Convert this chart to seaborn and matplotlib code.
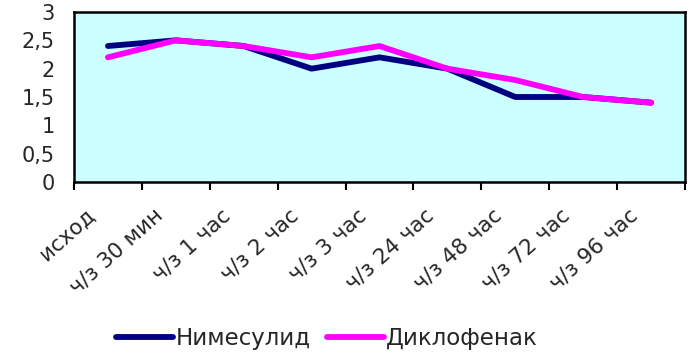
import numpy as np
import pandas as pd
import matplotlib
matplotlib.use("Agg")
import matplotlib.pyplot as plt
import matplotlib.transforms as mtransforms
import seaborn as sns

categories = ["исход", "ч/з 30 мин", "ч/з 1 час", "ч/з 2 час", "ч/з 3 час",
              "ч/з 24 час", "ч/з 48 час", "ч/з 72 час", "ч/з 96 час"]
nimesulide = [2.4, 2.5, 2.4, 2.0, 2.2, 2.0, 1.5, 1.5, 1.4]
diclofenac = [2.2, 2.5, 2.4, 2.2, 2.4, 2.0, 1.8, 1.5, 1.4]
series_names = ["Нимесулид", "Диклофенак"]
y_ticks = [0, 0.5, 1, 1.5, 2, 2.5, 3]

df = pd.DataFrame({
    "pos": list(range(len(categories))) * 2,
    "value": nimesulide + diclofenac,
    "drug": [series_names[0]] * len(categories) + [series_names[1]] * len(categories),
})

sns.set_theme(style="white")
plt.rcParams["font.family"] = ["DejaVu Sans"]

fig = plt.figure(figsize=(6.92, 3.61), dpi=100)
ax = fig.add_axes([74 / 692, 1 - 182 / 361, (685 - 74) / 692, (182 - 12) / 361])
ax.set_facecolor("#CCFFFF")

sns.lineplot(data=df, x="pos", y="value", hue="drug", hue_order=series_names,
             palette=["#000080", "#FF00FF"], linewidth=4.2, sort=False,
             legend=True, ax=ax)

n = len(categories)
ax.set_xlim(-0.5, n - 0.5)
ax.set_ylim(0, 3)
ax.set_xlabel("")
ax.set_ylabel("")

# category labels centred on the points, boundary tick marks between them
ax.set_xticks(np.arange(n))
ax.set_xticklabels(categories, rotation=42, ha="right", va="center",
                   rotation_mode="anchor", fontsize=15.5)
ax.set_xticks(np.arange(-0.5, n), minor=True)
ax.tick_params(axis="x", which="major", length=0, pad=22)
ax.tick_params(axis="x", which="minor", length=6, width=1.5, color="black",
               direction="out", bottom=True)
offset = mtransforms.ScaledTranslation(-16 / 100, 0, fig.dpi_scale_trans)
for lab in ax.get_xticklabels():
    lab.set_transform(lab.get_transform() + offset)

ax.set_yticks(y_ticks)
ax.set_yticklabels([f"{v:g}".replace(".", ",") for v in y_ticks], fontsize=15)
ax.tick_params(axis="y", length=0, pad=14)

for side in ["left", "bottom", "top", "right"]:
    ax.spines[side].set_visible(True)
    ax.spines[side].set_color("black")
    ax.spines[side].set_linewidth(1.8)

handles, labels = ax.get_legend_handles_labels()
ax.get_legend().remove()
leg = fig.legend(handles, labels, loc="center", ncol=2, frameon=False,
                 bbox_to_anchor=(327 / 692, 1 - 339 / 361), fontsize=16.5,
                 handlelength=2.5, handletextpad=0.1, columnspacing=0.7)
for line in leg.get_lines():
    line.set_linewidth(4.2)

fig.savefig("out.png", dpi=100)
